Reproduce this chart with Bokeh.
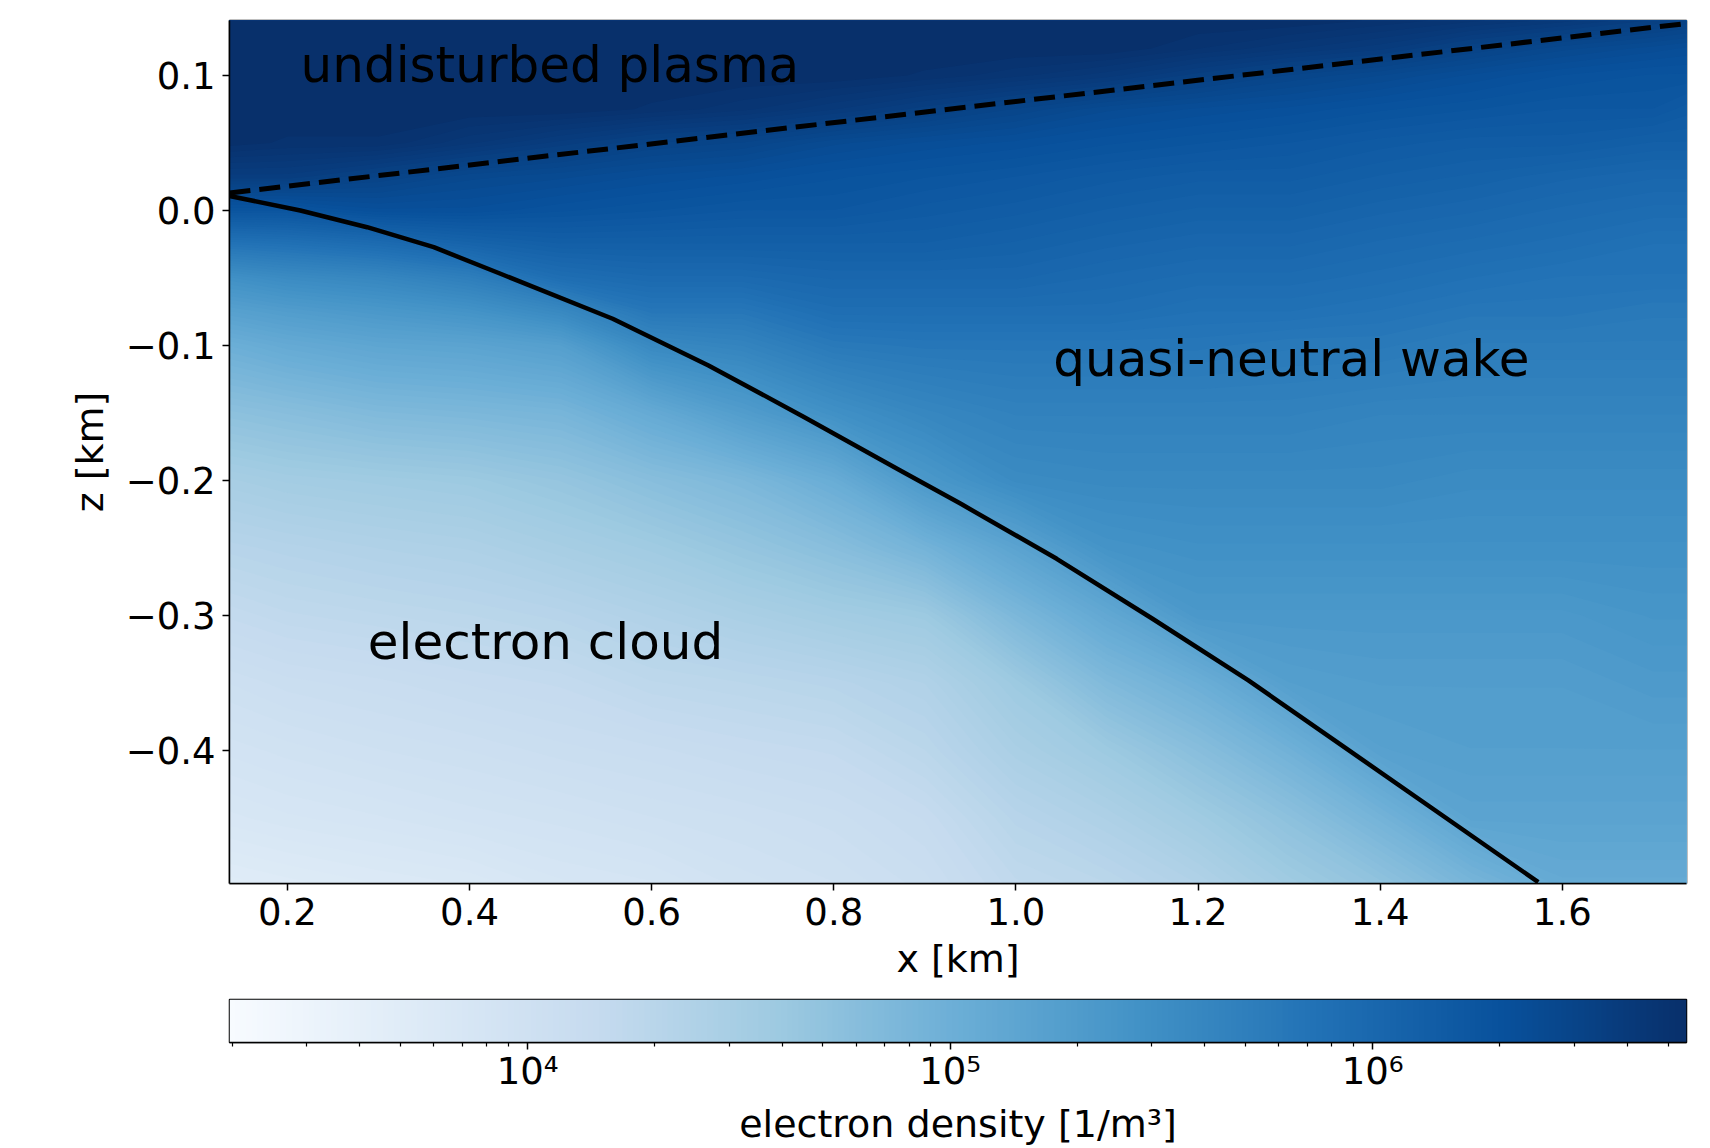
import numpy as np
from bokeh.plotting import figure
from bokeh.layouts import column
from bokeh.models import Range1d, FixedTicker, CustomJSTickFormatter, LogColorMapper
from bokeh.palettes import linear_palette
from bokeh.core.properties import value
from bokeh.embed import file_html
from bokeh.resources import INLINE

try:
    from bokeh.palettes import Blues256 as _blues
    palette = list(reversed(_blues))
except ImportError:
    from bokeh.palettes import Blues9, interp_palette
    palette = list(interp_palette(list(reversed(Blues9)), 256))

# ---------------- data ----------------
x_min, x_max = 0.1364, 1.7364          # km
z_min, z_max = -0.4985, 0.1407         # km
n_min, n_max = 1.97e3, 5.53e6          # colour scale limits, 1/m^3

# sample positions of the density field
x_nodes = [0.1364, 0.2, 0.3, 0.4, 0.5, 0.6, 0.7, 0.8, 0.9, 1.0, 1.1, 1.2, 1.3, 1.4, 1.5, 1.6, 1.7, 1.7364]
z_nodes_top_down = [0.1407, 0.12, 0.10, 0.075, 0.05, 0.025, 0.0, -0.025, -0.05, -0.075, -0.10,
                    -0.15, -0.20, -0.25, -0.30, -0.35, -0.40, -0.45, -0.4985]

# log10 electron density [1/m^3] at x_nodes, one list per z node (top to bottom)
logn_z_p1407 = [6.74, 6.74, 6.74, 6.74, 6.74, 6.74, 6.74, 6.74, 6.74, 6.74, 6.74, 6.74, 6.74, 6.71, 6.67, 6.62, 6.55, 6.52]
logn_z_p1200 = [6.74, 6.74, 6.74, 6.74, 6.74, 6.74, 6.74, 6.74, 6.74, 6.74, 6.74, 6.69, 6.64, 6.59, 6.50, 6.43, 6.38, 6.36]
logn_z_p1000 = [6.74, 6.74, 6.74, 6.74, 6.74, 6.74, 6.74, 6.74, 6.71, 6.67, 6.62, 6.54, 6.47, 6.42, 6.36, 6.31, 6.28, 6.28]
logn_z_p0750 = [6.74, 6.74, 6.74, 6.74, 6.74, 6.71, 6.67, 6.61, 6.54, 6.47, 6.40, 6.36, 6.33, 6.29, 6.26, 6.23, 6.23, 6.19]
logn_z_p0500 = [6.73, 6.71, 6.71, 6.64, 6.57, 6.50, 6.47, 6.40, 6.36, 6.33, 6.29, 6.26, 6.23, 6.19, 6.16, 6.16, 6.12, 6.12]
logn_z_p0250 = [6.57, 6.57, 6.50, 6.43, 6.40, 6.36, 6.33, 6.29, 6.26, 6.23, 6.19, 6.16, 6.16, 6.12, 6.09, 6.05, 6.02, 6.02]
logn_z_p0000 = [6.26, 6.26, 6.33, 6.33, 6.29, 6.26, 6.23, 6.23, 6.19, 6.16, 6.12, 6.09, 6.09, 6.05, 6.02, 5.98, 5.95, 5.95]
logn_z_m0250 = [5.85, 5.88, 5.95, 6.05, 6.12, 6.12, 6.12, 6.12, 6.12, 6.09, 6.05, 6.02, 6.02, 5.98, 5.95, 5.92, 5.88, 5.88]
logn_z_m0500 = [5.47, 5.54, 5.60, 5.71, 5.92, 5.98, 5.98, 6.02, 6.02, 6.02, 5.98, 5.95, 5.95, 5.92, 5.88, 5.85, 5.85, 5.85]
logn_z_m0750 = [5.23, 5.29, 5.36, 5.43, 5.57, 5.81, 5.81, 5.92, 5.92, 5.92, 5.92, 5.88, 5.88, 5.85, 5.81, 5.81, 5.78, 5.78]
logn_z_m1000 = [5.02, 5.09, 5.16, 5.19, 5.26, 5.57, 5.64, 5.78, 5.81, 5.81, 5.81, 5.81, 5.78, 5.78, 5.74, 5.74, 5.74, 5.74]
logn_z_m1500 = [4.74, 4.78, 4.85, 4.88, 4.92, 5.09, 5.29, 5.47, 5.60, 5.67, 5.67, 5.67, 5.67, 5.64, 5.64, 5.64, 5.64, 5.64]
logn_z_m2000 = [4.50, 4.54, 4.57, 4.60, 4.67, 4.78, 4.88, 5.05, 5.36, 5.54, 5.57, 5.57, 5.57, 5.57, 5.54, 5.54, 5.54, 5.54]
logn_z_m2500 = [4.33, 4.36, 4.40, 4.43, 4.50, 4.57, 4.67, 4.78, 4.95, 5.19, 5.43, 5.47, 5.47, 5.47, 5.47, 5.47, 5.47, 5.47]
logn_z_m3000 = [4.19, 4.23, 4.26, 4.29, 4.33, 4.40, 4.47, 4.54, 4.60, 4.88, 5.12, 5.36, 5.36, 5.36, 5.36, 5.36, 5.40, 5.40]
logn_z_m3500 = [4.05, 4.09, 4.12, 4.16, 4.19, 4.26, 4.29, 4.33, 4.40, 4.60, 4.85, 5.02, 5.26, 5.29, 5.29, 5.29, 5.33, 5.33]
logn_z_m4000 = [3.95, 3.98, 4.02, 4.05, 4.09, 4.12, 4.16, 4.19, 4.29, 4.47, 4.60, 4.78, 4.98, 5.23, 5.26, 5.26, 5.26, 5.26]
logn_z_m4500 = [3.85, 3.88, 3.91, 3.95, 3.98, 4.02, 4.05, 4.09, 4.16, 4.33, 4.43, 4.57, 4.74, 4.95, 5.19, 5.19, 5.19, 5.19]
logn_z_m4985 = [3.71, 3.74, 3.78, 3.81, 3.88, 3.91, 3.98, 4.02, 4.09, 4.23, 4.29, 4.40, 4.57, 4.71, 4.92, 5.09, 5.09, 5.09]

# electron-cloud boundary (solid curve)
boundary_x = [0.1364, 0.2142, 0.2875, 0.3607, 0.4340, 0.5572, 0.6624, 0.7677, 0.8730, 0.9395,
              1.0448, 1.1500, 1.2553, 1.3606, 1.5736]
boundary_z = [0.0107, 0.0000, -0.0124, -0.0272, -0.0469, -0.0802, -0.1148, -0.1531, -0.1926, -0.2173,
              -0.2580, -0.3024, -0.3481, -0.3975, -0.4975]

# wake edge (dashed line)
edge_x = [0.1364, 1.7364]
edge_z = [0.0130, 0.1385]

# region labels
region_text = ["undisturbed plasma", "quasi-neutral wake", "electron cloud"]
region_x = [0.2144, 1.0410, 0.2882]
region_z = [0.0943, -0.1230, -0.3328]

x_ticks = [0.2, 0.4, 0.6, 0.8, 1.0, 1.2, 1.4, 1.6]
z_ticks = [-0.4, -0.3, -0.2, -0.1, 0.0, 0.1]
cbar_major = [1e4, 1e5, 1e6]
cbar_minor = [2e3, 3e3, 4e3, 5e3, 6e3, 7e3, 8e3, 9e3,
              2e4, 3e4, 4e4, 5e4, 6e4, 7e4, 8e4, 9e4,
              2e5, 3e5, 4e5, 5e5, 6e5, 7e5, 8e5, 9e5,
              2e6, 3e6, 4e6, 5e6]

# ---------------- figure ----------------
rows_top_down = [logn_z_p1407, logn_z_p1200, logn_z_p1000, logn_z_p0750, logn_z_p0500,
                 logn_z_p0250, logn_z_p0000, logn_z_m0250, logn_z_m0500, logn_z_m0750,
                 logn_z_m1000, logn_z_m1500, logn_z_m2000, logn_z_m2500, logn_z_m3000,
                 logn_z_m3500, logn_z_m4000, logn_z_m4500, logn_z_m4985]
z_nodes = np.array(z_nodes_top_down[::-1])
logn_grid = np.array(rows_top_down[::-1])
x_arr = np.array(x_nodes)

n_bands = 128
levels = np.linspace(np.log10(n_min), np.log10(n_max), n_bands + 1)
band_colors = linear_palette(palette, n_bands)
mapper = LogColorMapper(palette=palette, low=n_min, high=n_max)

FONT = "DejaVu Sans"

p = figure(frame_width=1457, frame_height=863,
           x_range=Range1d(x_min, x_max), y_range=Range1d(z_min, z_max),
           output_backend="svg", toolbar_location=None,
           min_border_left=229, min_border_right=16, min_border_top=20, min_border_bottom=0)

# filled density field: each level's region drawn over the previous one (no seams)
top_level = levels[-1] + 1e-6
for i in range(n_bands):
    p.contour(x=x_arr, y=z_nodes, z=logn_grid, levels=[levels[i], top_level],
              fill_color=band_colors[i], line_color=None)

p.line(edge_x, edge_z, line_color="black", line_width=5, line_dash="21 9")
p.line(boundary_x, boundary_z, line_color="black", line_width=4.5, line_join="round")
p.text(x=region_x, y=region_z, text=region_text, text_font=value(FONT),
       text_font_size="50px", text_color="black", text_align="left",
       text_baseline="alphabetic", y_offset=-18)

p.grid.visible = False
p.outline_line_color = "black"
p.outline_line_width = 1.5

def style_axis(ax, label, label_standoff, tick_standoff):
    ax.axis_label = label
    ax.axis_label_text_font = FONT
    ax.axis_label_text_font_size = "38px"
    ax.axis_label_text_font_style = "normal"
    ax.axis_label_text_color = "black"
    ax.axis_label_standoff = label_standoff
    ax.major_label_text_font = FONT
    ax.major_label_text_font_size = "37px"
    ax.major_label_text_color = "black"
    ax.major_label_standoff = tick_standoff
    ax.axis_line_color = "black"
    ax.axis_line_width = 1.5
    ax.major_tick_line_color = "black"
    ax.major_tick_line_width = 1.5
    ax.major_tick_in = 0
    ax.major_tick_out = 7

style_axis(p.xaxis[0], "x [km]", 9, 7)
style_axis(p.yaxis[0], "z [km]", 11, 7)
p.xaxis.ticker = FixedTicker(ticks=x_ticks)
p.yaxis.ticker = FixedTicker(ticks=z_ticks)
p.xaxis.minor_tick_out = 0
p.yaxis.minor_tick_out = 0
p.xaxis.formatter = CustomJSTickFormatter(code="return tick.toFixed(1);")
p.yaxis.formatter = CustomJSTickFormatter(code="return tick.toFixed(1).replace('-', '\u2212');")

# ---------------- colour bar ----------------
bar_values = np.logspace(np.log10(n_min), np.log10(n_max), 512)

cb = figure(frame_width=1457, frame_height=43, x_axis_type="log",
            x_range=Range1d(n_min, n_max), y_range=Range1d(0, 1),
            output_backend="svg", toolbar_location=None,
            min_border_left=229, min_border_right=16, min_border_top=16, min_border_bottom=0)
cb.image(image=[bar_values[np.newaxis, :]], x=n_min, y=0, dw=n_max - n_min, dh=1,
         color_mapper=mapper)
cb.grid.visible = False
cb.yaxis.visible = False
cb.outline_line_color = "black"
cb.outline_line_width = 1.5
style_axis(cb.xaxis[0], "electron density [1/m\u00b3]", 6, 0)
cb.xaxis.ticker = FixedTicker(ticks=cbar_major, minor_ticks=cbar_minor)
cb.xaxis.minor_tick_out = 4
cb.xaxis.minor_tick_in = 0
cb.xaxis.minor_tick_line_color = "black"
cb.xaxis.minor_tick_line_width = 1.2
cb.xaxis.formatter = CustomJSTickFormatter(code="""
const sup = {'3': '\u00b3', '4': '\u2074', '5': '\u2075', '6': '\u2076'};
const e = Math.round(Math.log10(tick));
return '10' + sup[String(e)];
""")

layout = column(p, cb)
open("out.html", "w").write(file_html(layout, INLINE, title="electron density"))
